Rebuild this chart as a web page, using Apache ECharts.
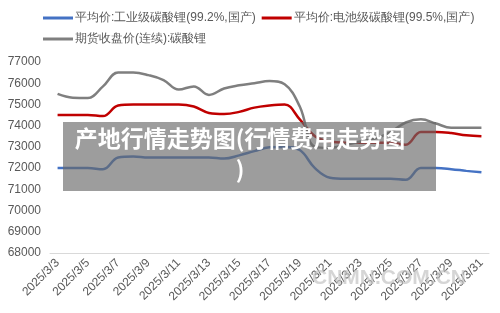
<!DOCTYPE html>
<html>
<head>
<meta charset="utf-8">
<script src="https://cdn.jsdelivr.net/npm/echarts@6/dist/echarts.min.js"></script>
<style>
  html, body { margin: 0; padding: 0; background: #fff; }
  #chart { width: 500px; height: 313px; }
</style>
</head>
<body>
<div id="chart"></div>
<script>
var days = [];
for (var d = 3; d <= 31; d++) {
  days.push("2025/3/" + d);
}

// 平均价:工业级碳酸锂(99.2%,国产)
var industrial = [
  72000, 72000, 72000, 71950, 72500, 72550, 72500, 72500, 72500, 72500,
  72500, 72450, 72600, 72800, 72980, 73000, 72850, 72000, 71550, 71500,
  71500, 71500, 71500, 71450, 72000, 72000, 71950, 71870, 71800
];
// 平均价:电池级碳酸锂(99.5%,国产)
var battery = [
  74500, 74500, 74500, 74450, 74950, 75000, 75000, 75000, 75000, 74900,
  74600, 74550, 74650, 74850, 74950, 75000, 74300, 73500, 73250, 73200,
  73200, 73200, 73200, 73100, 73700, 73700, 73650, 73550, 73500
];
// 期货收盘价(连续):碳酸锂
var futures = [
  75500, 75320, 75300, 75850, 76500, 76500, 76380, 76150, 75700, 75850,
  75450, 75750, 75900, 76000, 76100, 75950, 74900, 73000, 72950, 73100,
  73250, 73400, 73700, 74150, 74300, 74100, 73900, 73900, 73900
];

var myChart = echarts.init(document.getElementById("chart"));
var textColor = "#595959";

var option = {
  animation: false,
  legend: [
    {
      left: 38,
      top: 7,
      itemWidth: 30,
      itemHeight: 3,
      itemGap: 6,
      icon: "rect",
      textStyle: { color: textColor, fontSize: 12, padding: [0, 0, 0, -3] },
      data: ["平均价:工业级碳酸锂(99.2%,国产)", "平均价:电池级碳酸锂(99.5%,国产)"]
    },
    {
      left: 38,
      top: 28,
      itemWidth: 30,
      itemHeight: 3,
      icon: "rect",
      textStyle: { color: textColor, fontSize: 12, padding: [0, 0, 0, -3] },
      data: ["期货收盘价(连续):碳酸锂"]
    }
  ],
  grid: {
    left: 50,
    right: 11,
    top: 62,
    bottom: 60
  },
  xAxis: {
    type: "category",
    data: days,
    boundaryGap: true,
    axisLine: { lineStyle: { color: "#d9d9d9", width: 1 } },
    axisTick: { show: false },
    axisLabel: {
      interval: 1,
      rotate: 45,
      color: textColor,
      fontSize: 12,
      margin: 8
    }
  },
  yAxis: {
    type: "value",
    min: 68000,
    max: 77000,
    interval: 1000,
    splitLine: { show: false },
    axisLine: { show: false },
    axisTick: { show: false },
    axisLabel: {
      color: textColor,
      fontSize: 12,
      margin: 9,
      formatter: function (v) { return String(v); }
    }
  },
  series: [
    {
      name: "平均价:工业级碳酸锂(99.2%,国产)",
      type: "line",
      data: industrial,
      smooth: 0.4,
      showSymbol: false,
      lineStyle: { color: "#4472C4", width: 2.5 },
      itemStyle: { color: "#4472C4" }
    },
    {
      name: "平均价:电池级碳酸锂(99.5%,国产)",
      type: "line",
      data: battery,
      smooth: 0.4,
      showSymbol: false,
      lineStyle: { color: "#C00000", width: 2.5 },
      itemStyle: { color: "#C00000" }
    },
    {
      name: "期货收盘价(连续):碳酸锂",
      type: "line",
      data: futures,
      smooth: 0.4,
      showSymbol: false,
      lineStyle: { color: "#7F7F7F", width: 2.5 },
      itemStyle: { color: "#7F7F7F" }
    }
  ],
  graphic: [
    {
      type: "rect",
      left: 63,
      top: 122,
      z: 100,
      shape: { width: 373, height: 69 },
      style: { fill: "rgba(105,105,105,0.65)" }
    },
    {
      type: "text",
      x: 240,
      y: 123,
      z: 101,
      style: {
        text: "产地行情走势图(行情费用走势图\n)",
        textAlign: "center",
        fill: "#ffffff",
        font: "bold 23px 'Noto Sans CJK SC'",
        lineHeight: 31
      }
    },
    {
      type: "text",
      left: 312,
      top: 268,
      z: 101,
      style: {
        text: "CNMN.COM.CN",
        fill: "rgba(195,195,195,0.7)",
        font: "bold 21px 'Liberation Sans'"
      }
    }
  ]
};

myChart.setOption(option);
</script>
</body>
</html>
